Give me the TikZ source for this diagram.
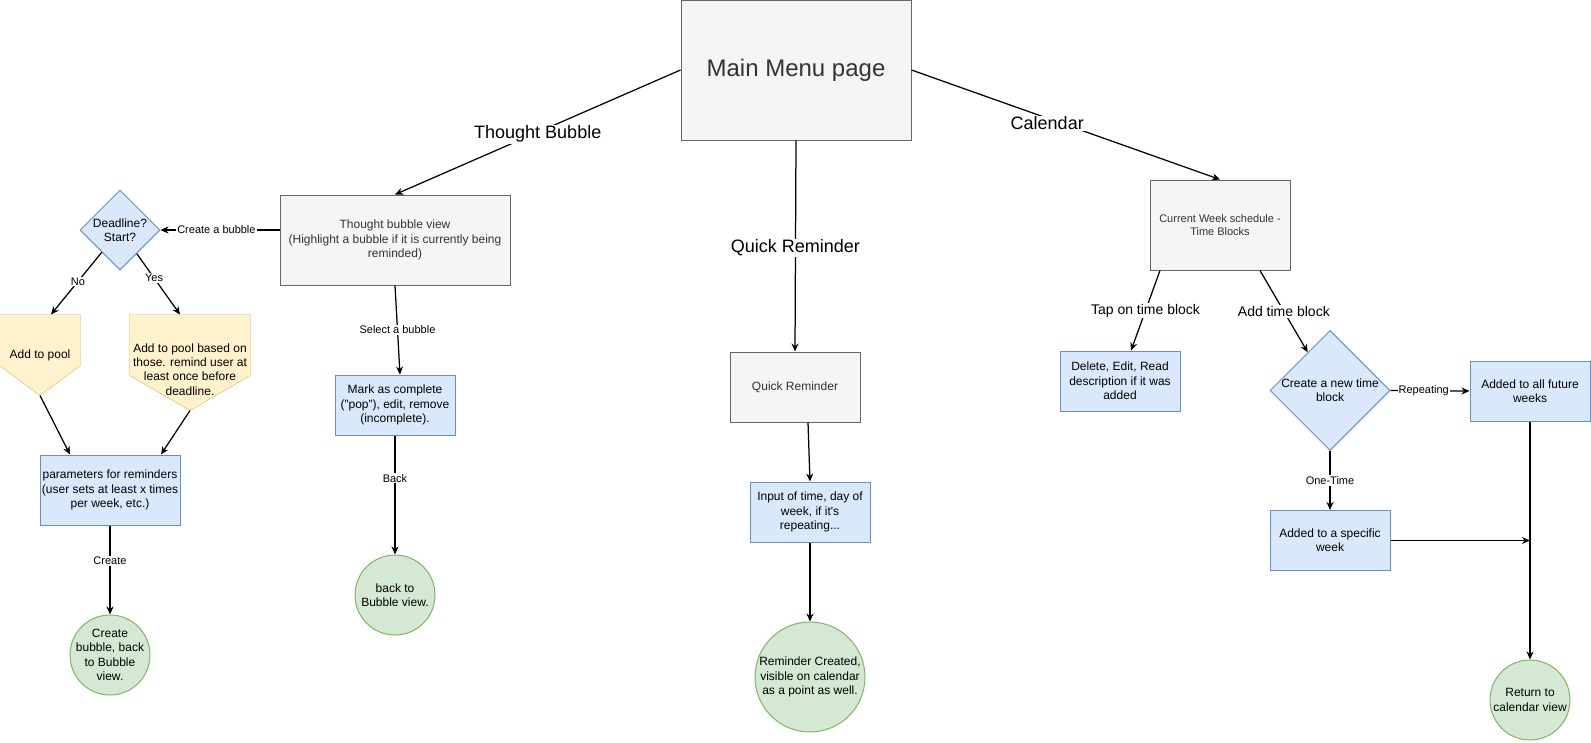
\documentclass[tikz,border=0pt]{standalone}
\usepackage{fontspec}
\setmainfont{Liberation Sans}
\usetikzlibrary{shapes.geometric,arrows.meta,backgrounds}

\definecolor{greyfill}{HTML}{F5F5F5}
\definecolor{greyline}{HTML}{666666}
\definecolor{greytext}{HTML}{333333}
\definecolor{bluefill}{HTML}{DAE8FC}
\definecolor{blueline}{HTML}{6C8EBF}
\definecolor{greenfill}{HTML}{D5E8D4}
\definecolor{greenline}{HTML}{82B366}
\definecolor{yellowfill}{HTML}{FFF2CC}
\definecolor{yellowline}{HTML}{D6B656}

\begin{document}
\begin{tikzpicture}[x=1pt,y=-1pt,line width=1pt,
  font=\fontsize{12}{14.4}\selectfont,
  every node/.style={inner sep=0pt,align=center},
  greybox/.style={rectangle,draw=greyline,fill=greyfill,text=greytext},
  bluebox/.style={rectangle,draw=blueline,fill=bluefill},
  bluediam/.style={diamond,draw=blueline,fill=bluefill},
  greencirc/.style={circle,draw=greenline,fill=greenfill},
  yellowpent/.style={draw=yellowline,fill=yellowfill},
  link/.style={line width=1.25pt,-{Stealth[length=8pt,width=7pt]}},
  smalllbl/.style={fill=white,inner sep=1pt,font=\fontsize{11}{13.2}\selectfont},
  midlbl/.style={fill=white,inner sep=1pt,font=\fontsize{14}{16.8}\selectfont},
  biglbl/.style={fill=white,inner sep=1pt,font=\fontsize{18}{21.6}\selectfont}]
\useasboundingbox (0,0) rectangle (1591,742);

\node[greybox,minimum width=230,minimum height=140,font=\fontsize{24}{28.8}\selectfont] (menu) at (796,70) {Main Menu page};

\node[greybox,minimum width=230,minimum height=90] (tbview) at (395,240) {Thought bubble view\\(Highlight a bubble if it is currently being\\reminded)};
\node[bluediam,minimum width=80,minimum height=80,label={center:Deadline?\\Start?}] (deadline) at (120,230) {};
\node[minimum width=80,minimum height=80] (pool) at (40,355) {Add to pool};
\node[minimum width=120,minimum height=95,label={[yshift=-7pt]center:Add to pool based on\\those. remind user at\\least once before\\deadline.}] (poolbased) at (190,362.5) {};
\node[bluebox,minimum width=140,minimum height=70] (params) at (110,490) {parameters for reminders\\(user sets at least x times\\per week, etc.)};
\node[greencirc,minimum size=80,label={center:Create\\bubble, back\\to Bubble\\view.}] (newbubble) at (110,655) {};
\node[bluebox,minimum width=120,minimum height=60] (mark) at (395,405) {Mark as complete\\("pop"), edit, remove\\(incomplete).};
\node[greencirc,minimum size=80,label={center:back to\\Bubble view.}] (backview) at (395,595) {};

\node[greybox,minimum width=130,minimum height=70] (quick) at (795,387) {Quick Reminder};
\node[bluebox,minimum width=120,minimum height=60] (input) at (810,512) {Input of time, day of\\week, if it\textquotesingle s\\repeating...};
\node[greencirc,minimum size=110,label={center:Reminder Created,\\visible on calendar\\as a point as well.}] (created) at (810,677) {};

\node[greybox,minimum width=140,minimum height=90,font=\fontsize{11}{13.2}\selectfont] (week) at (1220,225) {Current Week schedule -\\Time Blocks};
\node[bluebox,minimum width=120,minimum height=60] (edit) at (1120,381) {Delete, Edit, Read\\description if it was\\added};
\node[bluediam,minimum width=120,minimum height=120,label={center:Create a new time\\block}] (newblock) at (1330,390.5) {};
\node[bluebox,minimum width=120,minimum height=60] (future) at (1530,391) {Added to all future\\weeks};
\node[bluebox,minimum width=120,minimum height=60] (specific) at (1330,540.5) {Added to a specific\\week};
\node[greencirc,minimum size=80,label={center:Return to\\calendar view}] (calview) at (1530,700) {};
\coordinate (join) at (future |- specific);

\begin{pgfonlayer}{background}
\draw[yellowpent] (pool.north west) -- (pool.north east) -- ([yshift=30pt]pool.south east) -- (pool.south) -- ([yshift=30pt]pool.south west) -- cycle;
\draw[yellowpent] (poolbased.north west) -- (poolbased.north east) -- ([yshift=35pt]poolbased.south east) -- (poolbased.south) -- ([yshift=35pt]poolbased.south west) -- cycle;
\end{pgfonlayer}

\draw[link] (menu.west) -- node[biglbl,yshift=-2pt] {Thought Bubble} (tbview.north);
\draw[link] (menu.south) -- node[biglbl,yshift=-2pt] {Quick Reminder} (quick.north);
\draw[link] (menu.east) -- node[biglbl,pos=.44,yshift=-5pt] {Calendar} (week.north);

\draw[link] (tbview.west |- deadline) -- node[smalllbl,pos=.53] {Create a bubble} (deadline.east);
\draw[link] (deadline) -- node[smalllbl,pos=.47] {No} ([xshift=11pt]pool.north);
\draw[link] (deadline) -- node[smalllbl,pos=.4] {Yes} ([xshift=-10pt]poolbased.north);
\draw[link] (pool.south) -- ([xshift=-40pt]params.north);
\draw[link] (poolbased.south) -- ([xshift=51pt]params.north);
\draw[link] (params) -- node[smalllbl,pos=.4] {Create} (newbubble);
\draw[link] (tbview.south) -- node[smalllbl] {Select a bubble} ([xshift=5pt]mark.north);
\draw[link] (mark) -- node[smalllbl,pos=.36] {Back} (backview);

\draw[link] ([xshift=13pt]quick.south) -- (input.north);
\draw[link] (input) -- (created);

\draw[link] ([xshift=-60pt]week.south) -- node[midlbl] {Tap on time block} (edit);
\draw[link] ([xshift=40pt]week.south) -- node[midlbl] {Add time block} (newblock);
\draw[link] (newblock.east) -- node[smalllbl,pos=.42] {Repeating} (future.west);
\draw[link] (newblock.south) -- node[smalllbl] {One-Time} (specific.north);
\draw[link] (future) -- (calview);
\draw[link] (specific.east) -- (join);
\end{tikzpicture}
\end{document}
